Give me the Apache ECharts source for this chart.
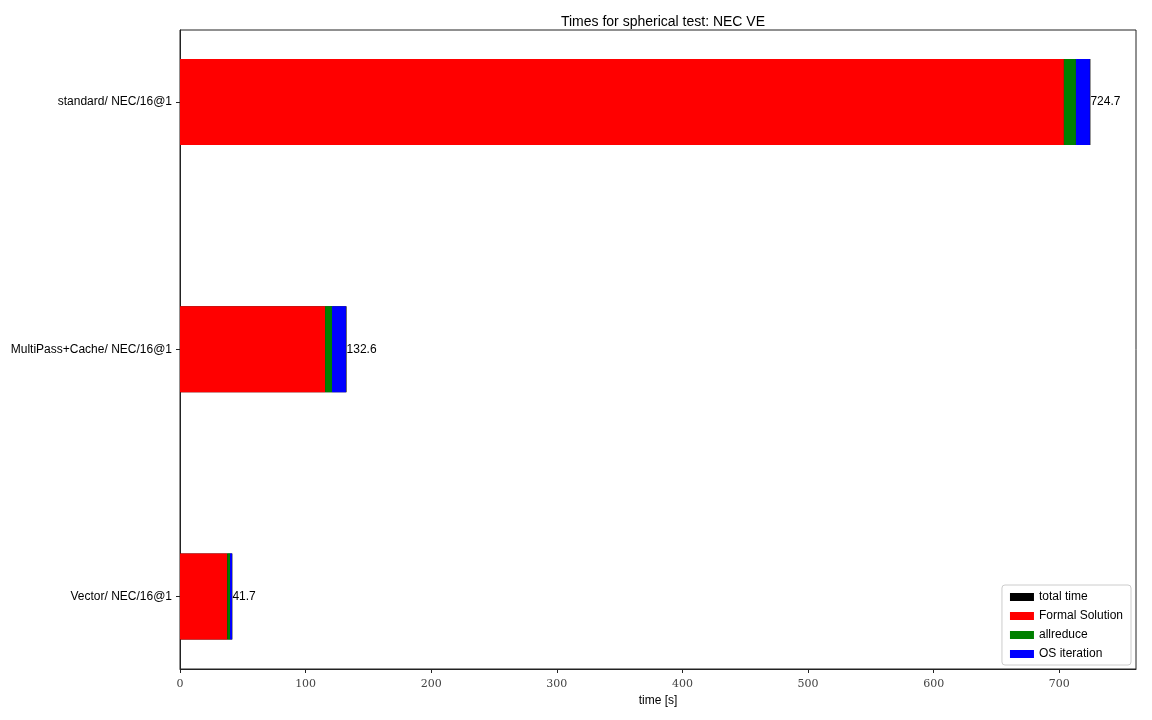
<!DOCTYPE html>
<html>
<head>
<meta charset="utf-8">
<script src="https://cdn.jsdelivr.net/npm/echarts@6/dist/echarts.min.js"></script>
<style>
  html, body { margin: 0; padding: 0; background: #fff; }
  #chart { width: 1152px; height: 720px; }
</style>
</head>
<body>
<div id="chart"></div>
<script>
const categories = ['standard/ NEC/16@1', 'MultiPass+Cache/ NEC/16@1', 'Vector/ NEC/16@1'];
const totalTime = [724.7, 132.6, 41.7];
const formalSolution = [703.6, 115.5, 37.6];
const allreduce = [9.6, 5.5, 2.2];
const osIteration = [11.1, 11.1, 1.6];
const xTicks = [0, 100, 200, 300, 400, 500, 600, 700];

const SANS = 'Liberation Sans, Arial, sans-serif';
const xMax = 761;

const chart = echarts.init(document.getElementById('chart'));

// stacked part sits on top of the black total bar
const stackPart = (name, data, color) => ({
  name: name,
  type: 'bar',
  xAxisIndex: 1,
  yAxisIndex: 1,
  stack: 'parts',
  barWidth: 86,
  z: 3,
  itemStyle: { color: color },
  data: data,
});

const option = {
  backgroundColor: '#fff',
  animation: false,
  textStyle: { fontFamily: SANS },
  title: {
    text: 'Times for spherical test: NEC VE',
    left: 658,
    top: 10,
    textAlign: 'center',
    textStyle: { fontFamily: SANS, fontSize: 14, fontWeight: 'normal', color: '#000' },
  },
  legend: {
    orient: 'vertical',
    right: 21,
    bottom: 55,
    padding: [6, 8, 5, 8],
    itemWidth: 24,
    itemHeight: 8,
    itemGap: 7,
    backgroundColor: '#fff',
    borderColor: '#ccc',
    borderWidth: 1,
    borderRadius: 3,
    icon: 'rect',
    data: ['total time', 'Formal Solution', 'allreduce', 'OS iteration'],
    textStyle: { fontFamily: SANS, fontSize: 12, color: '#000' },
  },
  grid: [
    // visible frame
    { left: 180, right: 16, top: 30, bottom: 51, show: true, borderColor: '#222', borderWidth: 1 },
    // data grid, stretched so the band centres line up with the reference
    { left: 180, right: 16, top: -21.6, height: 741.6, outerBoundsMode: 'none', containLabel: false },
  ],
  xAxis: [
    {
      gridIndex: 0,
      type: 'value',
      min: 0,
      max: xMax,
      name: 'time [s]',
      nameLocation: 'middle',
      nameGap: 25,
      nameTextStyle: { fontFamily: SANS, fontSize: 12, color: '#000' },
      axisLine: { show: true, lineStyle: { color: '#222' } },
      axisTick: { show: true, length: 4, customValues: xTicks, lineStyle: { color: '#222' } },
      axisLabel: {
        customValues: xTicks,
        margin: 10,
        fontFamily: 'DejaVu Serif, serif',
        fontSize: 11,
        color: '#444',
      },
      splitLine: { show: false },
    },
    {
      gridIndex: 1,
      type: 'value',
      min: 0,
      max: xMax,
      show: false,
    },
  ],
  yAxis: [
    {
      gridIndex: 0,
      type: 'value',
      min: 0,
      max: 1,
      axisLine: { show: true, lineStyle: { color: '#222' } },
      axisTick: { show: false },
      axisLabel: { show: false },
      splitLine: { show: false },
    },
    {
      gridIndex: 1,
      type: 'category',
      inverse: true,
      data: categories,
      axisLine: { show: false },
      axisTick: { show: true, alignWithLabel: true, length: 4, lineStyle: { color: '#222' } },
      axisLabel: { margin: 8, fontFamily: SANS, fontSize: 12, color: '#000' },
      splitLine: { show: false },
    },
  ],
  series: [
    {
      name: 'total time',
      type: 'bar',
      xAxisIndex: 1,
      yAxisIndex: 1,
      barWidth: 86,
      barGap: '-100%',
      z: 2,
      itemStyle: { color: '#000' },
      label: {
        show: true,
        position: 'right',
        distance: 0,
        fontFamily: SANS,
        fontSize: 12,
        color: '#000',
        formatter: (p) => p.value.toFixed(1),
      },
      data: totalTime,
    },
    stackPart('Formal Solution', formalSolution, '#ff0000'),
    stackPart('allreduce', allreduce, '#008000'),
    stackPart('OS iteration', osIteration, '#0000ff'),
  ],
};

chart.setOption(option);
</script>
</body>
</html>
